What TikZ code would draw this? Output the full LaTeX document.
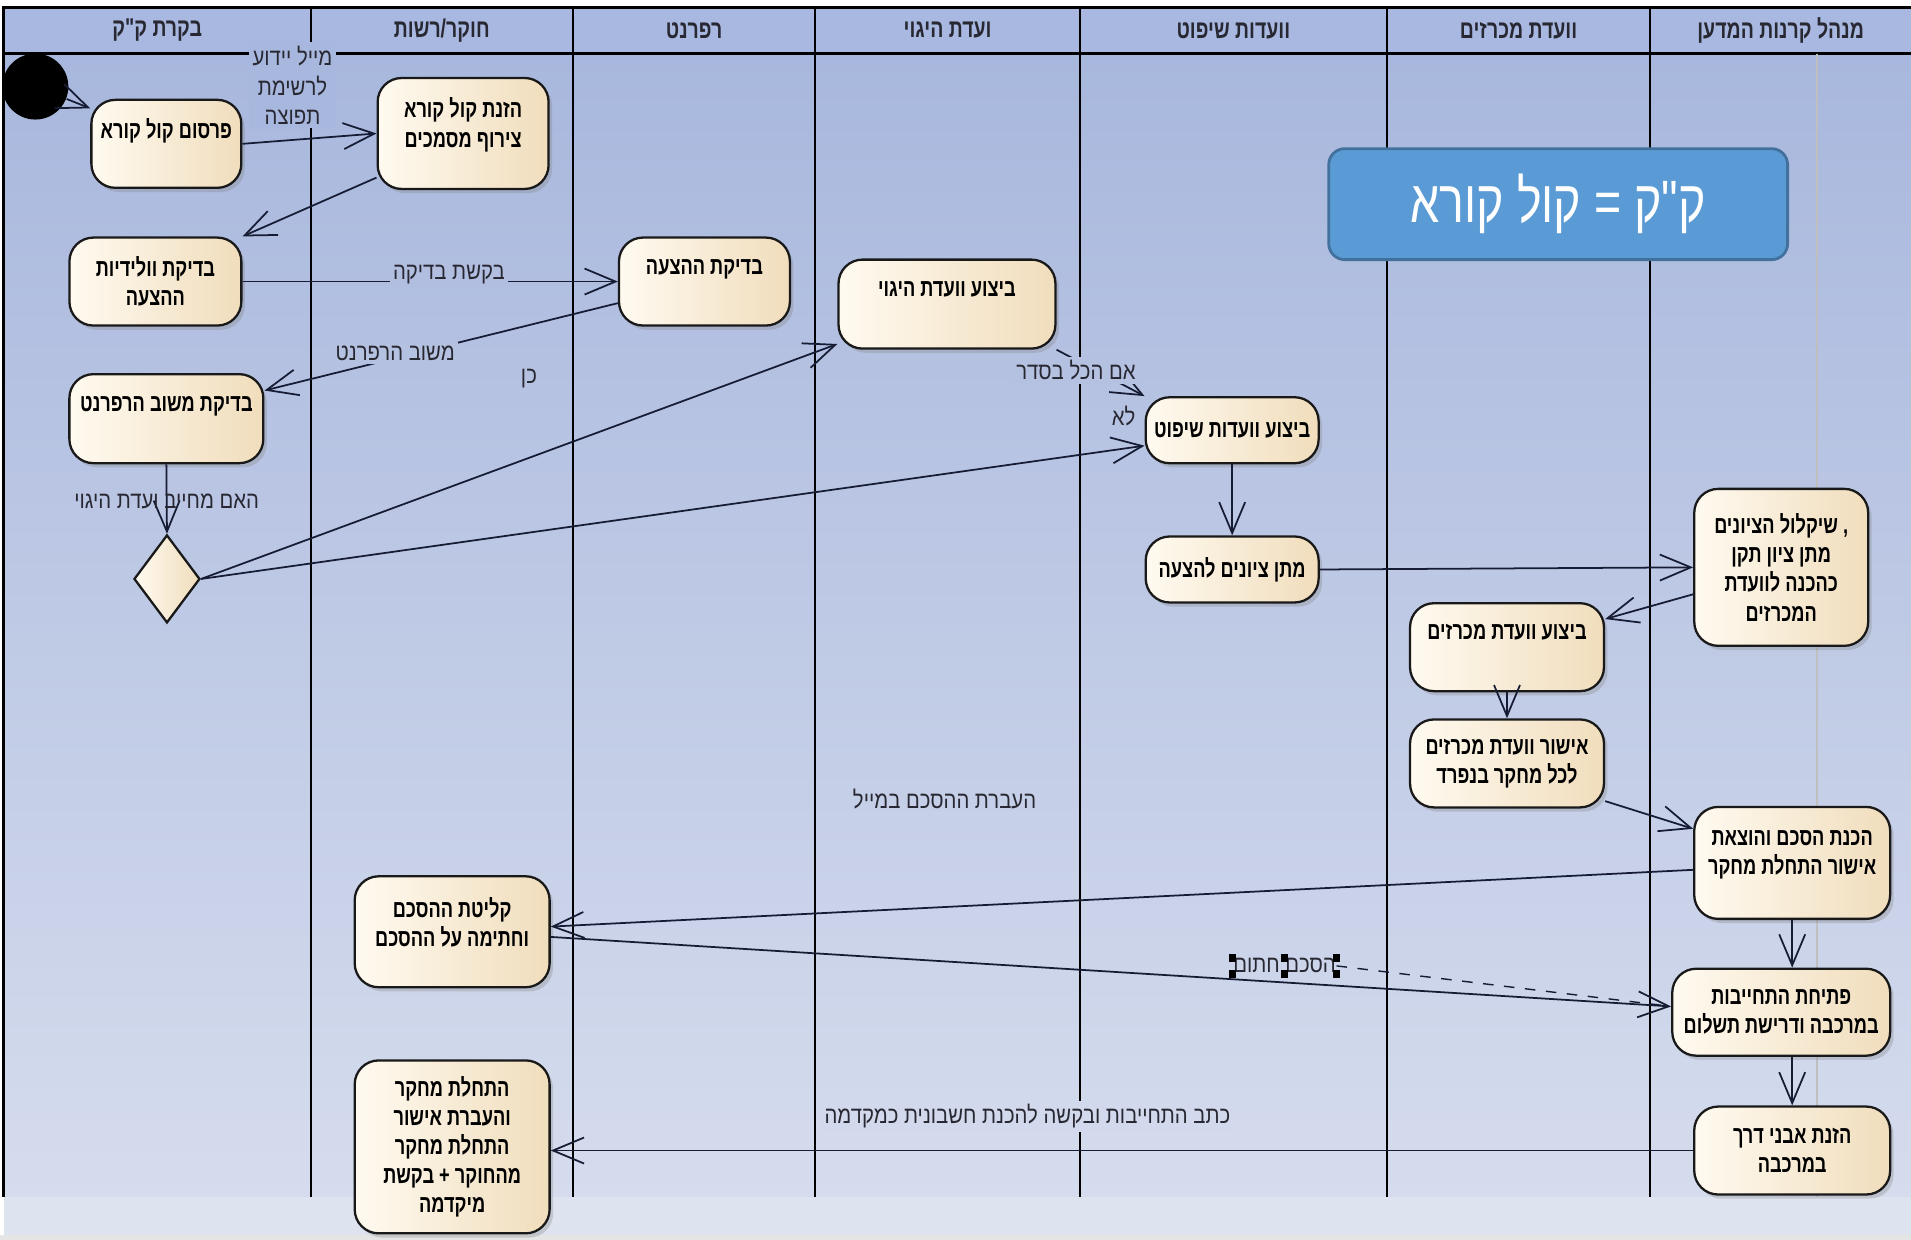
\documentclass[tikz,border=0pt]{standalone}
\usepackage{fontspec}
\setmainfont{Liberation Sans}
\newfontfamily\hebbox[Script=Hebrew,FakeStretch=0.74]{Liberation Sans}
\newfontfamily\hebhead[Script=Hebrew,FakeStretch=0.76]{Liberation Sans}
\newfontfamily\heblbl[Script=Hebrew,FakeStretch=0.85]{Liberation Sans}
\newfontfamily\hebnote[Script=Hebrew,FakeStretch=0.78]{Liberation Sans}
\TeXXeTstate=1
\newcommand{\rl}[1]{\beginR#1\endR}
\usetikzlibrary{arrows.meta,shapes.geometric,shadows,positioning,calc}
\usepackage{xcolor}
\definecolor{bgtop}{RGB}{168,183,221}
\definecolor{bgbot}{RGB}{213,220,237}
\definecolor{bgfoot}{RGB}{222,227,240}
\definecolor{hdrfill}{RGB}{168,184,225}
\definecolor{boxl}{RGB}{255,250,240}
\definecolor{boxr}{RGB}{240,221,188}
\definecolor{notefill}{RGB}{91,155,213}
\definecolor{notedraw}{RGB}{65,113,156}
\definecolor{flowcol}{RGB}{22,28,52}
\definecolor{txtcol}{RGB}{40,40,50}

\begin{document}
\begin{tikzpicture}[x=0.012188cm,y=-0.012188cm,>={Straight Barb[length=3.1mm,width=2.6mm]},
    act/.style={draw=black!90,line width=0.65pt,rounded corners=2.4mm,left color=boxl,right color=boxr,
        align=center,inner sep=1pt,font=\hebbox\bfseries\fontsize{7}{8.3}\selectfont,
        drop shadow={opacity=0.3,shadow xshift=1pt,shadow yshift=-1.2pt}},
    hightext/.style={text depth=#1},hightext/.default=3mm,
    lanehead/.style={font=\hebhead\bfseries\fontsize{7.3}{8.5}\selectfont,text=txtcol},
    lbl/.style={font=\heblbl\fontsize{6.8}{8.5}\selectfont,text=txtcol,align=center,inner sep=1pt},
    flow/.style={->,line width=0.5pt,draw=flowcol}]
	\useasboundingbox (0,0) rectangle (1568,1017.4);
	% lanes
	\fill[black!10] (0,1013) rectangle (1568,1017.4);
	\fill[bgfoot] (3,982) rectangle (1568,1013);
	\fill[top color=bgtop,bottom color=bgbot] (3,44) rectangle (1568,982);
	\fill[hdrfill] (3,6) rectangle (1568,44);
	\draw[line width=0.7pt] (3,982) -- (3,6) -- (1568,6);
	\draw[line width=1pt] (3,44) -- (1568,44);
	\draw[line width=0.6pt] (255,6) -- (255,982) (470,6) -- (470,982) (669,6) -- (669,982)
	    (886,6) -- (886,982) (1138,6) -- (1138,982) (1354,6) -- (1354,982);
	\draw[black!25,line width=0.4pt] (1491,44) -- (1491,982);
	\node (hd1) [lanehead] at (129,25) {\rl{בקרת ק"ק}};
	\node (hd2) [lanehead] at (362.5,25) {\rl{חוקר/רשות}};
	\node (hd3) [lanehead] at (569.5,25) {\rl{רפרנט}};
	\node (hd4) [lanehead] at (777.5,25) {\rl{ועדת היגוי}};
	\node (hd5) [lanehead] at (1012,25) {\rl{וועדות שיפוט}};
	\node (hd6) [lanehead] at (1246,25) {\rl{וועדת מכרזים}};
	\node (hd7) [lanehead] at (1461,25) {\rl{מנהל קרנות המדען}};
	% activities
	\node (start) [circle,fill=black,minimum size=6.6mm,inner sep=0pt] at (29,71) {};
	\node (act1) [act,minimum width=15mm,minimum height=8.8mm,hightext] at (136.5,118) {\rl{פרסום קול קורא}};
	\node (act2) [act,minimum width=17.1mm,minimum height=11.1mm,hightext=2.2mm] at (380,109.5) {\rl{הזנת קול קורא}\\\rl{צירוף מסמכים}};
	\node (act3) [act,minimum width=17.2mm,minimum height=8.8mm] at (127.5,231) {\rl{בדיקת וולידיות}\\\rl{ההצעה}};
	\node (act4) [act,minimum width=17.1mm,minimum height=8.8mm,hightext] at (578,231) {\rl{בדיקת ההצעה}};
	\node (act5) [act,minimum width=19.4mm,minimum height=8.9mm,hightext] at (136.5,343.5) {\rl{בדיקת משוב הרפרנט}};
	\node (dec) [diamond,draw=black!90,line width=0.65pt,left color=boxl,right color=boxr,minimum width=6.6mm,minimum height=8.8mm,inner sep=0pt] at (137,475) {};
	\node (act6) [act,minimum width=21.7mm,minimum height=8.9mm,hightext] at (777,249.5) {\rl{ביצוע וועדת היגוי}};
	\node (act7) [act,minimum width=17.3mm,minimum height=6.6mm] at (1011,353) {\rl{ביצוע וועדות שיפוט}};
	\node (act8) [act,minimum width=17.3mm,minimum height=6.6mm,below=7.1mm of act7] {\rl{מתן ציונים להצעה}};
	\node (act9) [act,minimum width=17.4mm,minimum height=15.7mm] at (1461.5,465.5) {\rl{, שיקלול הציונים}\\\rl{מתן ציון תקן}\\\rl{כהכנה לוועדת}\\\rl{המכרזים}};
	\node (act10) [act,minimum width=19.4mm,minimum height=8.8mm,hightext] at (1236.5,531) {\rl{ביצוע וועדת מכרזים}};
	\node (act11) [act,minimum width=19.4mm,minimum height=8.8mm,below=2.6mm of act10] {\rl{אישור וועדת מכרזים}\\\rl{לכל מחקר בנפרד}};
	\node (act12) [act,minimum width=19.6mm,minimum height=11.2mm,hightext=2mm] at (1470.5,708) {\rl{הכנת הסכם והוצאת}\\\rl{אישור התחלת מחקר}};
	\node (act13) [act,minimum width=19.5mm,minimum height=11.1mm,hightext=2mm] at (371,764.5) {\rl{קליטת ההסכם}\\\rl{וחתימה על ההסכם}};
	\node (act14) [act,minimum width=21.8mm,minimum height=8.7mm] at (1461.5,830.5) {\rl{פתיחת התחייבות}\\\rl{במרכבה ודרישת תשלום}};
	\node (act15) [act,minimum width=19.6mm,minimum height=8.8mm] at (1470.5,944) {\rl{הזנת אבני דרך}\\\rl{במרכבה}};
	\node (act16) [act,minimum width=19.5mm,minimum height=17.3mm] at (371,941) {\rl{התחלת מחקר}\\\rl{והעברת אישור}\\\rl{התחלת מחקר}\\\rl{מהחוקר + בקשת}\\\rl{מיקדמה}};
	\node (note) [draw=notedraw,line width=0.8pt,fill=notefill,rounded corners=1.6mm,minimum width=45.9mm,minimum height=11.1mm,text=white,font=\hebnote\fontsize{17}{20}\selectfont] at (1278.5,167.5) {\rl{ק"ק = קול קורא}};
	% flows
	\draw[flow] (start) -- (act1.155);
	\draw[flow] (act1.east) -- (act2.west);
	\node (lblmail) [lbl,fill=bgtop] at (240,70) {\rl{מייל יידוע}\\\rl{לרשימת}\\\rl{תפוצה}};
	\draw[flow] (act2.207) -- (act3.north east);
	\draw[flow] (act3.east) -- node (lblask) [lbl,fill=bgbot!19!bgtop,pos=0.55,yshift=2pt] {\rl{בקשת בדיקה}} (act4.west);
	\draw[flow] (act4.194) -- node (lblfeedback) [lbl,fill=bgbot!26!bgtop,pos=0.63,yshift=1.5pt] {\rl{משוב הרפרנט}} (act5.16);
	\draw[flow] (act5.south) -- node (lblneed) [lbl,pos=0.53] {\rl{האם מחייב ועדת היגוי}} (dec.north);
	\draw[flow] (dec.east) -- (act6.200);
	\draw[flow] (dec.east) -- (act7.190);
	\node (lblyes) [lbl] at (434,311) {\rl{כן}};
	\node (lblno) [lbl] at (922,341) {\rl{לא}};
	\draw[flow] (act6.south east) -- node (lblok) [lbl,fill=bgbot!28!bgtop,pos=0.22,yshift=-2.9pt] {\rl{אם הכל בסדר}} (act7.north west);
	\draw[flow] (act7) -- (act8);
	\draw[flow] (act8.east) -- (act9.west);
	\draw[flow] (act9.197) -- (act10.16);
	\draw[flow] (act10) -- (act11);
	\draw[flow] (act11.339) -- (act12.161);
	\draw[flow] (act12.184) -- (act13.3);
	\node (lblmailagr) [lbl] at (775,656) {\rl{העברת ההסכם במייל}};
	\draw[flow] (act13.357) -- (act14.177);
	\node (lblsigned) [lbl,inner sep=0pt] at (1054,792.5) {\rl{הסכם חתום}};
	\draw[dashed,line width=0.4pt,flowcol] (lblsigned.east) -- (act14.177);
	\foreach \a in {north west,north,north east,south west,south,south east}
	    \fill (lblsigned.\a) +(-3,-3.5) rectangle +(3,3.5);
	\draw[flow] (act12.south) -- (act12.south |- act14.north);
	\draw[flow] (act15.north |- act14.south) -- (act15.north);
	\draw[flow] (act15.west) -- (act15.west -| act16.east);
	\node (lblinvoice) [lbl,fill=bgbot!93!bgtop] at (843,916) {\rl{כתב התחייבות ובקשה להכנת חשבונית כמקדמה}};
\end{tikzpicture}
\end{document}
